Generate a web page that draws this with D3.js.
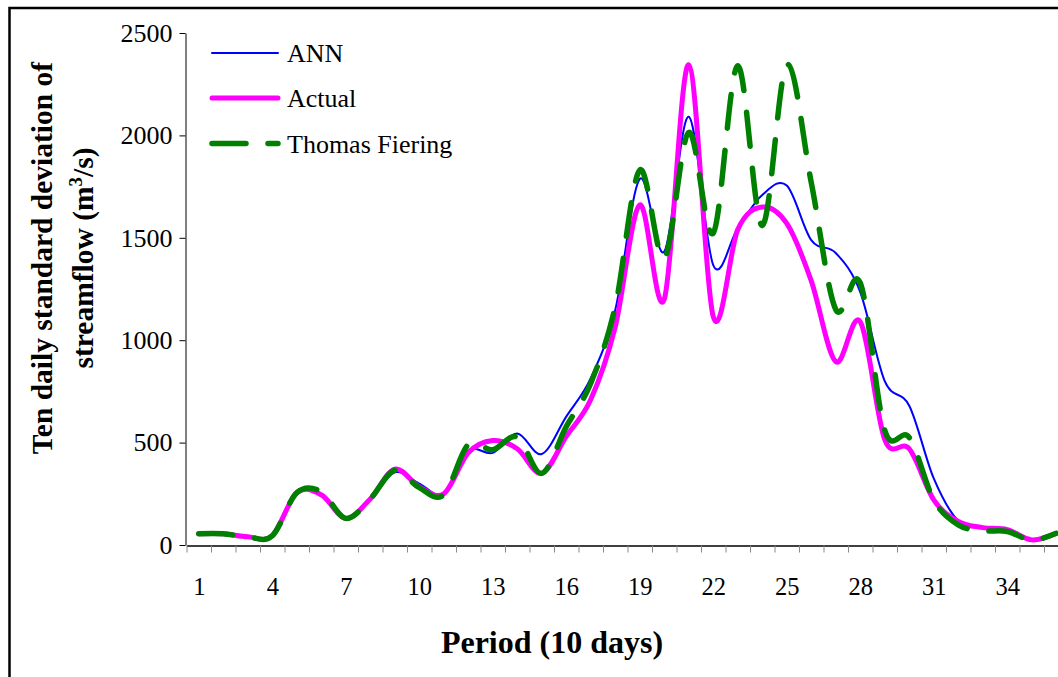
<!DOCTYPE html>
<html><head><meta charset="utf-8">
<script src="https://cdn.jsdelivr.net/npm/d3@7"></script>
<style>body{margin:0;background:#fff}svg{display:block}</style>
</head><body>
<svg id="c" width="1058" height="677"></svg>
<script>
const periods = [1,2,3,4,5,6,7,8,9,10,11,12,13,14,15,16,17,18,19,20,21,22,23,24,25,26,27,28,29,30,31,32,33,34,35,36];
const annValues = [55,55,40,45,255,245,130,225,355,300,250,460,450,545,444,627,815,1147,1787,1432,2091,1367,1548,1709,1755,1489,1426,1235,800,680,325,118,85,75,25,57];
const actualValues = [55,55,40,45,255,245,130,225,370,285,250,450,510,470,350,530,710,1065,1660,1200,2345,1115,1540,1650,1570,1290,895,1090,515,470,220,115,85,75,25,57];
const thomasFieringValues = [55,55,40,45,255,260,130,225,365,280,245,490,465,527,350,578,790,1164,1830,1400,2015,1523,2340,1560,2345,1770,1150,1280,560,525,220,98,70,66,24,57];
const xTickLabels = [1,4,7,10,13,16,19,22,25,28,31,34];
const yTickValues = [0,500,1000,1500,2000,2500];
const seriesNames = ["ANN","Actual","Thomas Fiering"];

const FONT = "'Liberation Serif','Times New Roman',serif";
const svg = d3.select("#c");

// outer frame (cropped on right / bottom)
svg.append("rect").attr("x",9.5).attr("y",8).attr("width",1200).attr("height",1000)
  .attr("fill","none").attr("stroke","#000").attr("stroke-width",2.5);

const x = d3.scaleLinear().domain([0.5,36.5]).range([186.5,1068.5]);
const y = d3.scaleLinear().domain([0,2500]).range([545,33]);

// Y axis
const yAxis = svg.append("g").attr("transform","translate(185.5,0)")
  .call(d3.axisLeft(y).tickValues(yTickValues).tickFormat(d3.format("d")).tickSize(6).tickSizeOuter(0).tickPadding(7));
yAxis.selectAll("text").attr("font-family",FONT).attr("font-size",26).attr("fill","#000");
yAxis.selectAll("line,path").attr("stroke","#000");

// X axis: tick marks between categories
const xAxis = svg.append("g").attr("transform","translate(0,545.5)")
  .call(d3.axisBottom(x).tickValues(d3.range(0.5,37,1)).tickSize(7).tickSizeOuter(0).tickFormat(""));
xAxis.selectAll(".tick line").attr("stroke","#888");
xAxis.select(".domain").attr("stroke","#000").attr("stroke-width",1.5);
// X labels at category centres
const xLab = svg.append("g").attr("transform","translate(0,545.5)")
  .call(d3.axisBottom(x).tickValues(xTickLabels).tickSize(0).tickPadding(32));
xLab.select(".domain").remove();
xLab.selectAll("text").attr("font-family",FONT).attr("font-size",24.5).attr("fill","#000");

// Lines
const line = d3.line().x((d,i)=>x(periods[i])).y(d=>y(d)).curve(d3.curveCatmullRom.alpha(0));
const series = [
  {name:seriesNames[0], values:annValues, color:"#0000FF", width:2, dash:null},
  {name:seriesNames[1], values:actualValues, color:"#FF00FF", width:5, dash:null},
  {name:seriesNames[2], values:thomasFieringValues, color:"#008000", width:5.5, dash:"34,22"}
];
series.forEach(s=>{
  svg.append("path").datum(s.values).attr("d",line)
    .attr("fill","none").attr("stroke",s.color).attr("stroke-width",s.width)
    .attr("stroke-linecap","round").attr("stroke-linejoin","round")
    .attr("stroke-dasharray",s.dash);
});

// Legend
const legY = [53,98,143.5];
series.forEach((s,i)=>{
  svg.append("line").attr("x1",212).attr("x2",278).attr("y1",legY[i]).attr("y2",legY[i])
    .attr("stroke",s.color).attr("stroke-width",s.width).attr("stroke-linecap","round")
    .attr("stroke-dasharray",s.dash);
  svg.append("text").attr("x",287).attr("y",legY[i]).attr("dy","0.35em")
    .attr("font-family",FONT).attr("font-size",26).text(s.name);
});

// Axis titles
svg.append("text").attr("transform","translate(52,258) rotate(-90)")
  .attr("text-anchor","middle").attr("font-family",FONT).attr("font-weight","bold").attr("font-size",29.5)
  .text("Ten daily standard deviation of");
const yt2 = svg.append("text").attr("transform","translate(93,258) rotate(-90)")
  .attr("text-anchor","middle").attr("font-family",FONT).attr("font-weight","bold").attr("font-size",29.5);
yt2.append("tspan").text("streamflow (m");
yt2.append("tspan").attr("font-size",19).attr("dy",-11).text("3");
yt2.append("tspan").attr("dy",11).text("/s)");

svg.append("text").attr("x",552).attr("y",653).attr("text-anchor","middle")
  .attr("font-family",FONT).attr("font-weight","bold").attr("font-size",32)
  .text("Period (10 days)");
</script>
</body></html>
